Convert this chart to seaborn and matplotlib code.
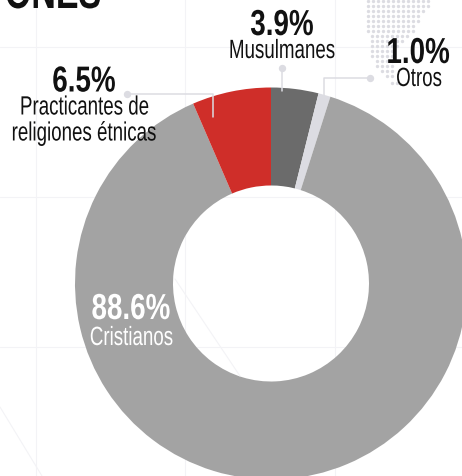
import matplotlib
matplotlib.use('Agg')
import matplotlib.pyplot as plt
from matplotlib.patheffects import AbstractPathEffect
from matplotlib.transforms import Affine2D
import pandas as pd
import seaborn as sns

labels = ['Musulmanes', 'Otros', 'Cristianos', 'Practicantes de', 'religiones étnicas']
shares = [3.9, 1.0, 88.6, 6.5]
share_labels = ['3.9%', '1.0%', '88.6%', '6.5%']
colors = ['#6b6b6b', '#dcdce2', '#a3a3a3', '#cf2e29']

# dotted map in the top right corner: row y, first x, last x
dot_y = [2, 7, 12, 17, 22, 27, 32, 37, 42, 47, 52, 57, 62, 67, 72, 77, 84]
dot_x0 = [368, 368, 368, 368, 368, 368, 368, 372, 372, 372, 372, 372, 377, 377, 382, 387, 392]
dot_x1 = [430, 430, 425, 418, 418, 413, 413, 408, 403, 398, 393, 393, 393, 393, 393, 393, 397]

grid_x = [36, 185, 335]
grid_y = [48, 198, 348]


# no condensed font installed, so narrow each line of text around its own centre
class Squeeze(AbstractPathEffect):
    def __init__(self, sx):
        super().__init__()
        self.sx = sx

    def draw_path(self, renderer, gc, tpath, affine, rgbFace=None):
        ext = tpath.get_extents()
        c = (ext.x0 + ext.x1) / 2
        squeeze = Affine2D().translate(-c, 0).scale(self.sx, 1).translate(c, 0)
        renderer.draw_path(gc, tpath, squeeze + affine, rgbFace)


sns.set_theme(style='white')
plt.rcParams['font.family'] = ['Liberation Sans', 'DejaVu Sans']

fig, ax = plt.subplots(figsize=(4.62, 4.77), dpi=100)
fig.subplots_adjust(0, 0, 1, 1)

for x in grid_x:
    ax.axvline(x, color='#f3f3f6', lw=0.8, zorder=0)
for y in grid_y:
    ax.axhline(y, color='#f3f3f6', lw=0.8, zorder=0)
ax.plot([0, 42], [408, 477], color='#f3f3f6', lw=0.8, zorder=0)
ax.plot([175, 240], [280, 377], color='#f3f3f6', lw=0.8, zorder=3)

rows = []
for y, x0, x1 in zip(dot_y, dot_x0, dot_x1):
    for x in range(x0, x1 + 1, 5):
        rows.append({'x': x, 'y': y})
dots = pd.DataFrame(rows)
sns.scatterplot(data=dots, x='x', y='y', color='#dcdce2', s=6, linewidth=0, ax=ax, zorder=1)

# y axis runs downwards here, so counterclock draws clockwise on screen
wedges, _ = ax.pie(shares, colors=colors, startangle=270, counterclock=True,
                   center=(271, 284.5), radius=196, frame=True,
                   wedgeprops={'width': 98, 'linewidth': 0})
for w in wedges:
    w.set_zorder(2)

# leader lines
line = '#dcdce2'
ax.plot([282, 282], [69, 92], color=line, lw=1.1, zorder=4)
ax.plot([127, 213, 213], [95, 95, 118], color=line, lw=1.1, zorder=4)
ax.plot([369, 324, 324], [79, 79, 96], color=line, lw=1.1, zorder=1.5)
sns.scatterplot(x=[282, 369.5, 127], y=[69, 79, 95], color=line, s=28, linewidth=0, ax=ax, zorder=4)

ax.set_xlim(0, 462)
ax.set_ylim(477, 0)
ax.set_aspect('auto')
ax.set_xlabel('')
ax.set_ylabel('')
ax.set_xticks([])
ax.set_yticks([])
for s in ax.spines.values():
    s.set_visible(False)

black = '#111111'


def big(x, y, s, color=black):
    ax.text(x, y, s, fontsize=26, fontweight='bold', color=color, ha='center', va='baseline',
            zorder=5, path_effects=[Squeeze(0.77)])


def small(x, y, s, color=black):
    ax.text(x, y, s, fontsize=19, color=color, ha='center', va='baseline',
            zorder=5, path_effects=[Squeeze(0.71)])


ax.text(53, 9, 'ONES', fontsize=34, fontweight='bold', color=black, ha='center', va='baseline',
        zorder=5, path_effects=[Squeeze(0.72)])

big(282, 36, share_labels[0])
small(282, 59, labels[0])
big(418, 64, share_labels[1])
small(419, 87, labels[1])
big(84, 92.5, share_labels[3])
small(84.5, 115.5, labels[3])
small(84, 141.5, labels[4])
big(131, 320, share_labels[2], color='white')
small(131.5, 346, labels[2], color='white')

fig.savefig('out.png', dpi=100)
